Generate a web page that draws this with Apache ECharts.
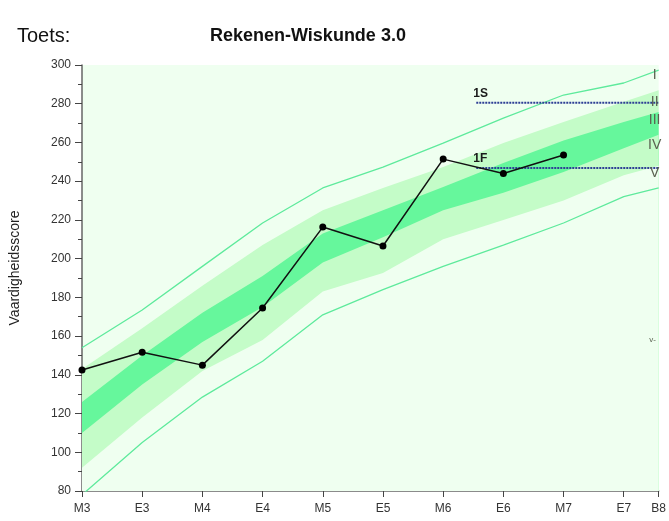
<!DOCTYPE html>
<html>
<head>
<meta charset="utf-8">
<script src="https://cdn.jsdelivr.net/npm/echarts@6/dist/echarts.min.js"></script>
<style>
  html, body { margin: 0; padding: 0; background: #fff; }
  #chart { width: 669px; height: 521px; }
</style>
</head>
<body>
<div id="chart"></div>
<script>
// meetmomenten op de x-as (B8 staat dichter bij E7)
const categories = ['M3', 'E3', 'M4', 'E4', 'M5', 'E5', 'M6', 'E6', 'M7', 'E7', 'B8'];
const xPos = [0, 1, 2, 3, 4, 5, 6, 7, 8, 9, 9.58];

// scores van de leerling (M3 t/m M7)
const scores = [142.5, 151.7, 145, 174.5, 216.3, 206.5, 251.4, 244, 253.5];

// niveaugrenzen
const upperLine   = [154, 173.5, 196, 218.4, 236.5, 247.3, 259.7, 272.6, 284.5, 290.7, 297.4];
const lightTop    = [143, 164, 186, 207, 225, 236.5, 247.3, 259.7, 270.6, 281, 287];
const darkTop     = [126, 150, 172, 191, 213, 225, 237, 249.4, 261, 270.6, 275.7];
const darkBottom  = [110, 135, 157, 175, 198, 211, 225, 234, 244.7, 257, 264];
const lightBottom = [92, 118, 142, 158, 183, 192.6, 210, 220, 230, 243, 248];
const lowerLine   = [78, 105, 128.5, 147, 171, 184, 196, 207, 218.4, 232, 236.5];

// referentieniveaus
const refNames = ['1S', '1F'];
const refValues = [280.5, 246.8];
const refStart = 6.55;

// labels rechts
const romanLabels = ['I', 'II', 'III', 'IV', 'V', 'v-'];
const romanValues = [295, 281, 271.5, 258.5, 244, 158];

const yTicks = [80, 100, 120, 140, 160, 180, 200, 220, 240, 260, 280, 300];

const FONT = '"Liberation Sans", Arial, sans-serif';
const BG = '#effff0';
const LIGHT = '#c4fcc8';
const DARK = '#66f79c';
const EDGE = '#5eea9c';

function pts(arr) {
  return arr.map((v, i) => [xPos[i], v]);
}

function fill(arr, color) {
  return {
    type: 'line',
    data: pts(arr),
    symbol: 'none',
    silent: true,
    lineStyle: { width: 0 },
    areaStyle: { color: color, opacity: 1, origin: 'start' }
  };
}

function edge(arr) {
  return {
    type: 'line',
    data: pts(arr),
    symbol: 'none',
    silent: true,
    lineStyle: { color: EDGE, width: 1.3 }
  };
}

const chart = echarts.init(document.getElementById('chart'));

const series = [
  fill(lightTop, LIGHT),
  fill(darkTop, DARK),
  fill(darkBottom, LIGHT),
  fill(lightBottom, BG),
  edge(upperLine),
  edge(lowerLine)
];

refValues.forEach(v => {
  series.push({
    type: 'line',
    data: [[refStart, v], [xPos[xPos.length - 1], v]],
    symbol: 'none',
    silent: true,
    lineStyle: { color: '#2e3f95', width: 2, type: [2, 1] }
  });
});

series.push({
  type: 'line',
  data: scores.map((v, i) => [xPos[i], v]),
  symbol: 'circle',
  symbolSize: 7,
  clip: false,
  itemStyle: { color: '#000' },
  lineStyle: { color: '#111', width: 1.5 }
});

const option = {
  animation: false,
  backgroundColor: '#fff',
  title: [
    { text: 'Toets:', left: 12, top: 21, textStyle: { fontFamily: FONT, fontSize: 20, fontWeight: 'normal', color: '#111' } },
    { text: 'Rekenen-Wiskunde 3.0', left: 205, top: 22, textStyle: { fontFamily: FONT, fontSize: 18, fontWeight: 'bold', color: '#111' } }
  ],
  grid: {
    left: 82, right: 8, top: 65, bottom: 30,
    show: true, backgroundColor: BG, borderWidth: 0
  },
  xAxis: {
    type: 'value',
    min: 0,
    max: xPos[xPos.length - 1],
    splitLine: { show: false },
    axisLine: { show: true, lineStyle: { color: '#666', width: 1.5 } },
    axisTick: { show: true, length: 6, customValues: xPos, lineStyle: { color: '#444' } },
    axisLabel: {
      customValues: xPos,
      margin: 12,
      fontFamily: FONT, fontSize: 12, color: '#333',
      formatter: v => {
        const i = xPos.findIndex(p => Math.abs(p - v) < 1e-6);
        return i >= 0 ? categories[i] : '';
      }
    }
  },
  yAxis: {
    type: 'value',
    min: 80,
    max: 300,
    interval: 20,
    splitLine: { show: false },
    axisLine: { show: true, lineStyle: { color: '#666', width: 1.5 } },
    axisTick: { show: true, length: 7, lineStyle: { color: '#444' } },
    minorTick: { show: true, splitNumber: 2, length: 4, lineStyle: { color: '#444' } },
    axisLabel: {
      margin: 11,
      fontFamily: FONT, fontSize: 12, color: '#333',
      formatter: v => (yTicks.indexOf(v) >= 0 ? String(v) : '')
    }
  },
  series: series
};

chart.setOption(option);

// teksten in de grafiek, geplaatst via de schalen van de grafiek
const lastX = xPos[xPos.length - 1];
const texts = [{
  type: 'text',
  x: 15, y: 268,
  rotation: Math.PI / 2,
  style: {
    text: 'Vaardigheidsscore',
    fontFamily: FONT, fontSize: 14, fill: '#222',
    textAlign: 'center', textVerticalAlign: 'middle'
  }
}];

refValues.forEach((v, i) => {
  const p = chart.convertToPixel({ gridIndex: 0 }, [refStart, v]);
  texts.push({
    type: 'text',
    x: p[0] - 3, y: p[1] - 3,
    z: 100,
    style: {
      text: refNames[i],
      fontFamily: FONT, fontSize: 12, fontWeight: 'bold', fill: '#1a1a1a',
      textAlign: 'left', textVerticalAlign: 'bottom'
    }
  });
});

romanValues.forEach((v, i) => {
  const p = chart.convertToPixel({ gridIndex: 0 }, [lastX, v]);
  const small = romanLabels[i] === 'v-';
  texts.push({
    type: 'text',
    x: p[0] - (small ? 6 : 4), y: p[1],
    z: 100,
    style: {
      text: romanLabels[i],
      fontFamily: FONT, fontSize: small ? 8 : 14, fill: '#5a6150',
      textAlign: 'center', textVerticalAlign: 'middle'
    }
  });
});

chart.setOption({ graphic: texts });
</script>
</body>
</html>
